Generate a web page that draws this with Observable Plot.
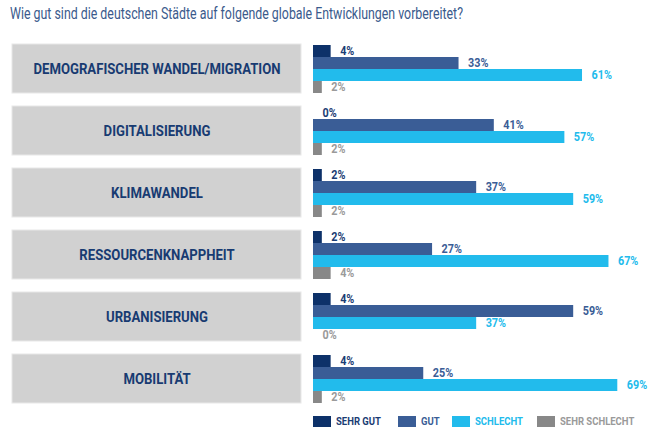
<!DOCTYPE html>
<html><head><meta charset="utf-8">
<script src="https://cdn.jsdelivr.net/npm/d3@7"></script>
<script src="https://cdn.jsdelivr.net/npm/@observablehq/plot@0.6"></script>
<style>
body{margin:0;background:#fff;font-family:Roboto,"Noto Sans",sans-serif;}
#wrap{position:relative;width:656px;height:437px;overflow:hidden;background:#fff}
#title{position:absolute;left:10px;top:3px;font-size:17px;color:#3a5a8c;white-space:nowrap;transform-origin:0 0;display:inline-block}
#charts{position:absolute;left:0;top:36px;display:flex}
#legend{position:absolute;left:0;top:416px;width:656px;height:14px;font-weight:bold;font-size:11.5px}
#legend .sw{position:absolute;top:0;width:18px;height:11px}
#legend .lt{position:absolute;top:-2px;white-space:nowrap;transform-origin:0 50%;display:inline-block;line-height:15px}
</style></head>
<body>
<div id="wrap">
  <div id="title">Wie gut sind die deutschen Städte auf folgende globale Entwicklungen vorbereitet?</div>
  <div id="charts"></div>
  <div id="legend"></div>
</div>
<script>
const categories = ["DEMOGRAFISCHER WANDEL/MIGRATION","DIGITALISIERUNG","KLIMAWANDEL","RESSOURCENKNAPPHEIT","URBANISIERUNG","MOBILITÄT"];
const series = ["SEHR GUT","GUT","SCHLECHT","SEHR SCHLECHT"];
const sehrGut = [4,0,2,2,4,4];
const gut = [33,41,37,27,59,25];
const schlecht = [61,57,59,67,37,69];
const sehrSchlecht = [2,2,2,4,0,2];
const colors = ["#0d3169","#3a5d96","#22bbec","#888888"];
const labelColors = ["#1b3d74","#3a5d96","#22bbec","#9a9a9a"];

const values = [sehrGut, gut, schlecht, sehrSchlecht];
const rows = [];
categories.forEach((c, i) => series.forEach((s, j) => rows.push({category: c, series: s, value: values[j][i]})));

const H = 401, MT = 7, MB = 34;
const font = 'Roboto,"Noto Sans",sans-serif';

const left = Plot.plot({
  width: 303, height: H, marginLeft: 12, marginRight: 2, marginTop: MT, marginBottom: MB,
  style: {fontFamily: font, background: "transparent"},
  y: {domain: categories, paddingInner: 0.212, paddingOuter: 0, axis: null},
  marks: [
    Plot.cell(categories, {y: d => d, fill: "#d1d1d1", stroke: "#e8e8e8", strokeWidth: 1}),
    Plot.text(categories, {y: d => d, text: d => d, frameAnchor: "middle", fill: "#183b72", fontWeight: "bold", fontSize: 14.5})
  ]
});

const right = Plot.plot({
  width: 353, height: H, marginLeft: 10, marginRight: 0, marginTop: MT, marginBottom: MB,
  style: {fontFamily: font, background: "transparent"},
  x: {domain: [0, 343 / 4.41], axis: null},
  y: {domain: series, padding: 0, axis: null},
  fy: {domain: categories, paddingInner: 0.212, paddingOuter: 0, axis: null},
  color: {domain: series, range: colors},
  marks: [
    Plot.barX(rows, {fy: "category", y: "series", x: "value", fill: "series"}),
    Plot.text(rows, {fy: "category", y: "series", x: "value", text: d => d.value + "%", textAnchor: "start", dx: 9,
      fill: d => labelColors[series.indexOf(d.series)], fontWeight: "bold", fontSize: 12})
  ]
});

document.getElementById("charts").append(left, right);

// condense text to mimic the narrow typeface of the original
function condense(svg, k) {
  svg.querySelectorAll("text").forEach(t => {
    const w = t.getComputedTextLength();
    if (w > 0) { t.setAttribute("textLength", w * k); t.setAttribute("lengthAdjust", "spacingAndGlyphs"); }
  });
}
const firstLabel = left.querySelector("text");
const kCat = 247 / firstLabel.getComputedTextLength();
condense(left, kCat);
condense(right, 0.9);

const title = document.getElementById("title");
title.style.transform = `scaleX(${453 / title.getBoundingClientRect().width})`;

const legend = document.getElementById("legend");
const swX = [313, 398, 452, 537];
const spans = [];
series.forEach((s, j) => {
  const sw = document.createElement("div");
  sw.className = "sw"; sw.style.left = swX[j] + "px"; sw.style.background = colors[j];
  const t = document.createElement("span");
  t.className = "lt"; t.style.left = (swX[j] + 23) + "px"; t.style.color = labelColors[j]; t.textContent = s;
  legend.append(sw, t); spans.push(t);
});
const kLeg = 45 / spans[0].getBoundingClientRect().width;
spans.forEach(t => t.style.transform = `scaleX(${kLeg})`);
</script>
</body></html>
